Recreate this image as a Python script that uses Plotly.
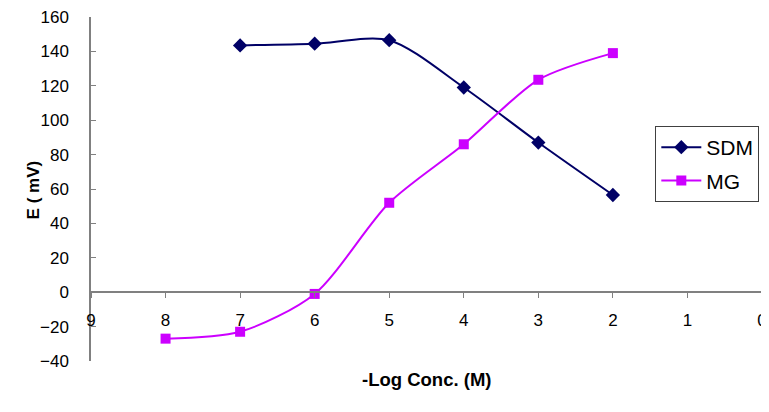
import plotly.graph_objects as go

sdm_x = [7, 6, 5, 4, 3, 2]
sdm_y = [143.5, 144.5, 146.5, 119, 87, 56.5]
mg_x = [8, 7, 6, 5, 4, 3, 2]
mg_y = [-27, -23, -1, 52, 86, 123.5, 139]
x_ticks = [9, 8, 7, 6, 5, 4, 3, 2, 1, 0]
y_ticks = [-40, -20, 0, 20, 40, 60, 80, 100, 120, 140, 160]

FONT = "Liberation Sans, Arial, sans-serif"

fig = go.Figure()
fig.add_trace(go.Scatter(
    x=sdm_x, y=sdm_y, name="SDM", mode="lines+markers",
    line=dict(color="#000066", width=2, shape="spline", smoothing=0.8),
    marker=dict(symbol="diamond", size=11, color="#000066"),
    legendgroup="a"))
fig.add_trace(go.Scatter(
    x=mg_x, y=mg_y, name="MG", mode="lines+markers",
    line=dict(color="#CC00FF", width=2, shape="spline", smoothing=0.8),
    marker=dict(symbol="square", size=10, color="#CC00FF"),
    legendgroup="b"))

fig.update_layout(
    width=761, height=396,
    margin=dict(l=83, r=7, t=9, b=43, autoexpand=False),
    paper_bgcolor="white", plot_bgcolor="white",
    font=dict(family=FONT, size=17, color="black"),
    showlegend=True,
    legend=dict(x=0.996, y=0.683, xanchor="right", yanchor="top",
                bgcolor="white", bordercolor="#404040", borderwidth=1,
                font=dict(size=21), tracegroupgap=3, itemwidth=40,
                traceorder="grouped"),
    xaxis=dict(range=[9, 0], tickvals=x_ticks, ticktext=[str(v) for v in x_ticks],
               anchor="free", position=0.2, showline=True, linecolor="#808080",
               linewidth=1.5, ticks="outside", ticklen=5, tickcolor="#808080",
               showgrid=False, zeroline=False, ticklabelstandoff=8, automargin=False,
               ticklabeloverflow="allow"),
    yaxis=dict(range=[-40, 160], tickvals=y_ticks, showline=True, linecolor="#808080",
               linewidth=1.5, ticks="inside", ticklen=5, tickcolor="#808080",
               showgrid=False, zeroline=False, ticklabelstandoff=17, automargin=False,
               ticklabeloverflow="allow"),
    annotations=[
        dict(text="<b>-Log Conc. (M)</b>", x=0.5, y=-0.09, xref="paper", yref="paper",
             showarrow=False, font=dict(size=18.5)),
        dict(text="<b>E ( mV)</b>", x=-0.103, y=0.497, xref="paper", yref="paper",
             showarrow=False, textangle=-90, font=dict(size=17)),
    ],
)

fig.write_html("out.html")
